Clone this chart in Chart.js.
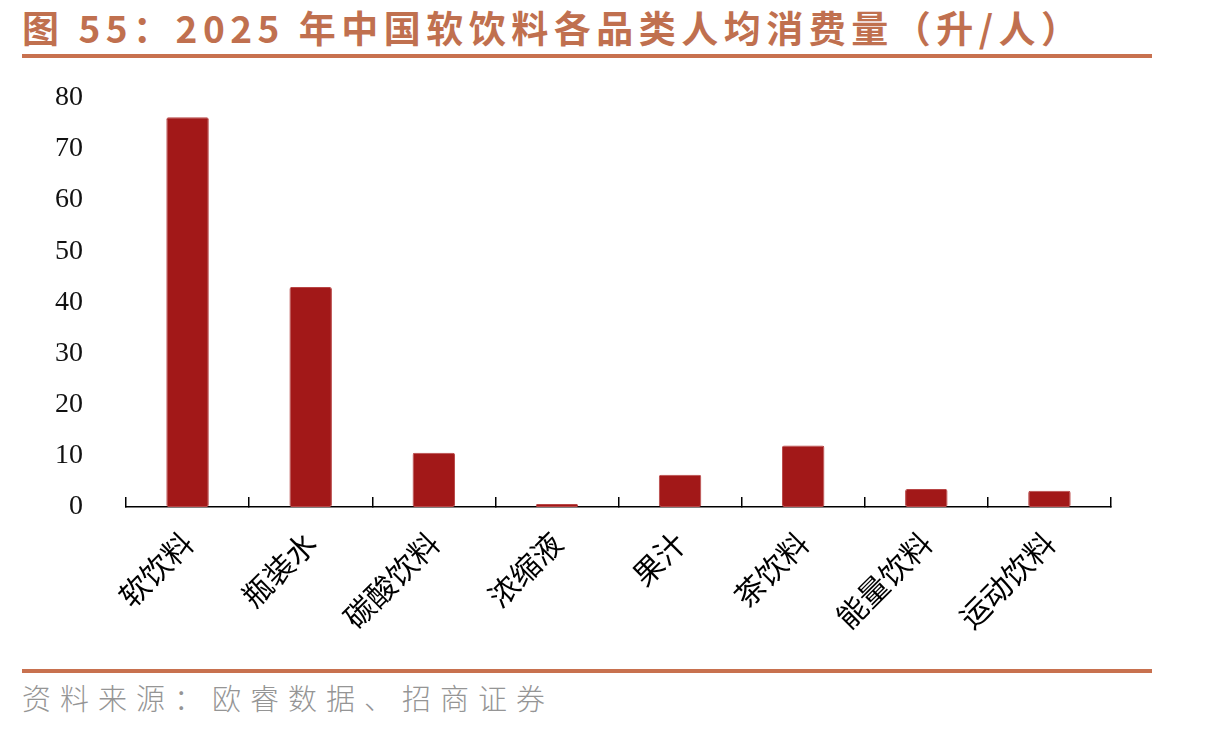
<!DOCTYPE html>
<html>
<head>
<meta charset="utf-8">
<script src="https://cdn.jsdelivr.net/npm/chart.js@4/dist/chart.umd.min.js"></script>
<style>
  html, body { margin: 0; padding: 0; background: #fff; }
  #page { position: relative; width: 1219px; height: 732px; overflow: hidden; }
  #title {
    position: absolute; left: 22px; top: 3px;
    font-family: "Noto Sans CJK SC", sans-serif; font-weight: 700;
    font-size: 37px; line-height: 48px; letter-spacing: 5.5px;
    color: #C0704F; white-space: nowrap;
  }
  .rule { position: absolute; left: 22px; width: 1130px; height: 4px; background: #C8714F; }
  #source {
    position: absolute; left: 22px; top: 677px;
    font-family: "Noto Sans CJK SC", sans-serif; font-weight: 300;
    font-size: 29px; line-height: 40px; letter-spacing: 9px;
    color: #959595; white-space: nowrap;
  }
  #box { position: absolute; left: 0; top: 38px; width: 1219px; height: 622px; }
</style>
</head>
<body>
<div id="page">
  <div id="title">图 55：2025 年中国软饮料各品类人均消费量（升/人）</div>
  <div class="rule" style="top:54px"></div>
  <div class="rule" style="top:669px"></div>
  <div id="source">资料来源：欧睿数据、招商证券</div>
  <div id="box"><canvas id="chart"></canvas></div>
</div>
<script>
// categories and per-capita volume (litres / person)
const categories = ["软饮料", "瓶装水", "碳酸饮料", "浓缩液", "果汁", "茶饮料", "能量饮料", "运动饮料"];
const litresPerCapita = [76.2, 43.0, 10.6, 0.6, 6.3, 12.0, 3.5, 3.2];
const yTicks = [0, 10, 20, 30, 40, 50, 60, 70, 80];

const ctx = document.getElementById("chart").getContext("2d");
new Chart(ctx, {
  type: "bar",
  data: {
    labels: categories,
    datasets: [
      {
        label: "人均消费量",
        data: litresPerCapita,
        backgroundColor: "#A21818",
        borderColor: "#B84545",
        borderWidth: 1,
        borderRadius: 2,
        borderSkipped: false,
        categoryPercentage: 1,
        barPercentage: 0.345
      }
    ]
  },
  options: {
    responsive: true,
    maintainAspectRatio: false,
    animation: false,
    layout: { padding: { top: 25, right: 108, bottom: 0, left: 0 } },
    plugins: {
      legend: { display: false },
      tooltip: { enabled: false }
    },
    scales: {
      x: {
        offset: true,
        border: { display: true, color: "#000", width: 1.5 },
        grid: {
          display: true,
          offset: true,
          drawOnChartArea: false,
          drawTicks: true,
          tickLength: -10,
          color: "#000",
          lineWidth: 1.5
        },
        ticks: {
          color: "#000",
          font: { family: "'Noto Sans CJK SC'", size: 30 },
          minRotation: 45,
          maxRotation: 45,
          padding: 28,
          autoSkip: false
        },
        afterFit: (scale) => { scale.height = 153; }
      },
      y: {
        min: 0,
        max: 80,
        border: { display: false },
        grid: { display: false, drawTicks: false },
        afterBuildTicks: (scale) => { scale.ticks = yTicks.map((v) => ({ value: v })); },
        ticks: {
          color: "#111",
          font: { family: "'Liberation Serif'", size: 28 },
          padding: 43
        },
        afterFit: (scale) => { scale.width = 126; }
      }
    }
  }
});
</script>
</body>
</html>
